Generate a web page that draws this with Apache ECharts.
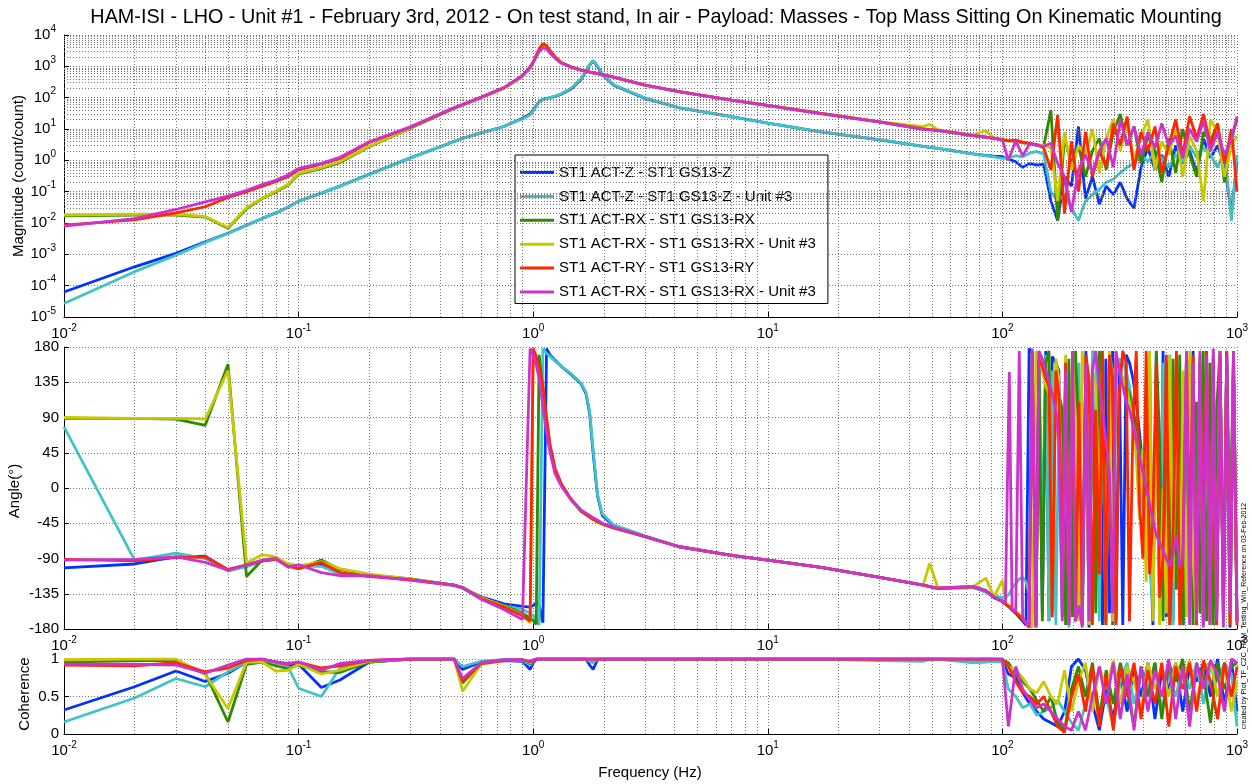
<!DOCTYPE html>
<html>
<head>
<meta charset="utf-8">
<title>HAM-ISI LHO Unit #1 - ST1 transfer functions</title>
<script src="https://cdn.jsdelivr.net/npm/echarts@6/dist/echarts.min.js"></script>
<style>
  html, body { margin: 0; padding: 0; background: #fff; }
  #chart { width: 1252px; height: 784px; }
</style>
</head>
<body>
<div id="chart"></div>
<script>
// frequency points (Hz) below 100 Hz, shared by the three panels
const freq = [
  0.01, 0.02, 0.03, 0.04, 0.05, 0.06, 0.07, 0.08, 0.09, 0.1,
  0.125, 0.15, 0.2, 0.3, 0.46, 0.5, 0.6, 0.75, 0.9, 0.97,
  1.0, 1.03, 1.06, 1.1, 1.14, 1.18, 1.24, 1.32, 1.45, 1.6,
  1.68, 1.74, 1.8, 1.88, 1.97, 2.2, 3, 4.2, 7, 10,
  16.6, 30, 46, 49, 53, 75, 85, 92, 100
];
// noisy band above 100 Hz (magnitude and coherence)
const freqHi = [
  106, 114, 122, 131, 140, 150, 161, 172, 184, 197,
  211, 226, 242, 259, 277, 297, 318, 340, 364, 390,
  417, 447, 478, 512, 548, 587, 628, 673, 720, 771,
  826, 884, 947, 1000
];
// noisy band above 100 Hz (phase, finer)
const freqHiPh = [
  103, 107, 110, 114, 118, 122, 126, 130,
  134, 139, 143, 148, 153, 158, 163, 169, 174, 180, 186, 192,
  199, 205, 212, 219, 227, 234, 242, 250, 259, 267,
  276, 286, 295, 305, 315, 326, 337, 348, 360, 372,
  384, 397, 410, 424, 438, 453, 468, 484, 500, 517,
  534, 552, 570, 589, 609, 629, 650, 672, 695, 718,
  742, 767, 792, 819, 846, 875, 904, 934, 966, 1000
];

const seriesNames = [
  'ST1 ACT-Z - ST1 GS13-Z',
  'ST1 ACT-Z - ST1 GS13-Z - Unit #3',
  'ST1 ACT-RX - ST1 GS13-RX',
  'ST1 ACT-RX - ST1 GS13-RX - Unit #3',
  'ST1 ACT-RY - ST1 GS13-RY',
  'ST1 ACT-RX - ST1 GS13-RX - Unit #3 '   // same label as the yellow one in the original
];
const seriesColors = ['#0033ff', '#40c4c4', '#2f8a00', '#c8c800', '#ff2600', '#cc33cc'];

// magnitude (count/count): freq then freqHi
const magZ1 = [
  6.3e-5, 4.0e-4, 1.07e-3, 2.5e-3, 4.7e-3, 8.5e-3, 0.014, 0.021, 0.032, 0.05,
  0.09, 0.15, 0.36, 1.2, 4.0, 5.0, 7.5, 12, 22, 30,
  40, 55, 75, 88, 95, 100, 110, 130, 190, 380,
  700, 1100, 1500, 1000, 550, 250, 95, 47, 25, 15.5,
  8.2, 4.5, 2.8, 2.6, 2.4, 1.6, 1.45, 1.35, 1.3,
  1.1, 0.9, 0.6, 0.8, 0.7, 0.75, 0.05, 0.012, 0.3, 0.15,
  12, 0.06, 0.3, 0.04, 0.15, 0.08, 0.2, 0.06, 0.03, 0.6,
  2.5, 0.5, 1.5, 0.3, 3, 0.8, 2, 0.4, 5, 1.2,
  3, 0.7, 0.02, 0.9
];
const magZ3 = [
  2.7e-5, 2.8e-4, 9.3e-4, 2.4e-3, 4.6e-3, 8.3e-3, 0.014, 0.021, 0.032, 0.05,
  0.09, 0.15, 0.35, 1.2, 4.0, 5.0, 7.5, 12, 21, 28,
  38, 52, 72, 86, 94, 100, 112, 135, 200, 400,
  750, 1150, 1550, 1050, 580, 260, 98, 47, 25, 15.5,
  8.2, 4.6, 2.8, 2.6, 2.4, 1.6, 1.4, 1.3, 1.15,
  1.2, 1.4, 1.3, 1.7, 1.9, 1.6, 0.1, 0.05, 0.08, 0.03,
  0.012, 0.05, 0.08, 0.12, 0.2, 0.25, 0.4, 0.6, 0.8, 1.5,
  0.9, 2, 1.2, 0.6, 1.5, 0.9, 3, 1.2, 2.5, 1.5,
  0.6, 2, 0.012, 1.5
];
const magRX1 = [
  0.017, 0.018, 0.018, 0.0155, 0.0068, 0.029, 0.06, 0.1, 0.16, 0.36,
  0.55, 0.85, 2.7, 10.5, 45, 58, 100, 200, 480, 900,
  1300, 2000, 3200, 4300, 4000, 2900, 1900, 1300, 950, 760,
  690, 650, 620, 580, 540, 450, 250, 155, 84, 57,
  32, 17, 10, 9.5, 9, 6.2, 5.5, 5, 4.5,
  4.2, 4, 3.6, 3.4, 3, 2.8, 40, 0.012, 5, 0.8,
  3, 0.3, 2, 5, 0.5, 8, 30, 3, 12, 0.8,
  6, 2, 0.2, 5, 0.4, 10, 1.5, 0.3, 8, 4,
  15, 0.2, 5, 20
];
const magRX3 = [
  0.018, 0.019, 0.019, 0.016, 0.0072, 0.031, 0.062, 0.105, 0.17, 0.38,
  0.58, 0.9, 2.8, 10.8, 46, 58, 98, 195, 470, 880,
  1250, 1950, 3100, 4100, 3800, 2800, 1850, 1280, 940, 750,
  680, 640, 610, 575, 535, 445, 248, 152, 83, 56,
  32, 17, 12, 14, 9.5, 6.3, 9, 5.2, 4.6,
  4.3, 4.2, 3.8, 3.5, 3.2, 3, 2.5, 0.05, 8, 0.5,
  3, 1.5, 10, 0.4, 5, 20, 2, 15, 1, 6,
  20, 0.5, 4, 1.5, 10, 0.3, 6, 2, 0.05, 20,
  8, 0.3, 3, 6
];
const magRY1 = [
  0.0085, 0.0125, 0.021, 0.033, 0.065, 0.1, 0.15, 0.21, 0.3, 0.5,
  0.75, 1.15, 3.7, 11.5, 47, 60, 105, 210, 510, 950,
  1400, 2300, 3600, 5300, 4600, 3200, 2000, 1300, 960, 770,
  700, 660, 630, 590, 550, 455, 252, 155, 84, 57,
  32, 17, 10, 9.5, 9, 6.2, 5.5, 5.1, 4.6,
  4.2, 4.4, 3.8, 3.5, 3.2, 2.5, 0.5, 28, 0.02, 4,
  0.1, 8, 0.3, 2, 0.6, 15, 3, 25, 0.5, 8,
  2, 12, 0.4, 3, 20, 1.5, 25, 5, 30, 3,
  15, 0.8, 10, 0.1
];
const magRX3b = [
  0.008, 0.0138, 0.027, 0.047, 0.072, 0.11, 0.17, 0.23, 0.34, 0.55,
  0.8, 1.25, 3.9, 11.7, 48, 60, 102, 205, 500, 920,
  1350, 2100, 3000, 3900, 3500, 2600, 1800, 1250, 930, 750,
  690, 650, 620, 585, 545, 450, 250, 153, 83, 56,
  31, 16.6, 9.8, 9.4, 9, 6.1, 5.4, 5, 4.5,
  1.0, 4.2, 1.4, 3.5, 3, 2.8, 3.5, 0.8, 0.3, 0.022,
  0.5, 1.5, 0.4, 2, 5, 0.6, 20, 3, 12, 1.5,
  8, 2.5, 15, 3, 6, 1.2, 10, 4, 18, 2,
  8, 1.5, 5, 25
];

// phase (degrees): freq then freqHiPh
const phZ1 = [
  -102, -97, -88, -87, -105, -100, -93, -91, -98, -99,
  -97, -110, -111, -116, -124, -128, -139, -148, -151, -152,
  -150, -147, -150, -172, 178, 170, 163, 155, 145, 133,
  120, 95, 45, -10, -35, -48, -62, -75, -86, -92,
  -101, -114, -124, -126, -128, -127, -132, -140, -145,
  -148, -152, -156, -160, -165, -170, -175, 178,
  172, -175, 170, -160, 175, -170, 168, 160, 150, -165, 140, -175,
  160, -170, 120, -150, 175, -178, 150, -120, 170, -175,
  165, -160, 175, -170, 160, -175, 170, 160, 140, 110,
  70, 30, -10, -30, -175, 170, -160, 175, -165, 150,
  -170, 165, -100, -175, 170, -140, 175, -170, 160, -175,
  175, -160, 100, -175, 170, -150, 175, -178, 165, -170
];
const phZ3 = [
  78, -92, -83, -90, -106, -100, -93, -90, -98, -100,
  -100, -110, -112, -117, -125, -128, -141, -150, -155, -160,
  -163, -168, -175, 178, 172, 168, 162, 155, 146, 134,
  122, 98, 50, -8, -33, -47, -61, -75, -86, -92,
  -101, -114, -124, -126, -128, -127, -133, -138, -140,
  -140, -135, -128, -122, -116, -114, -120, -135,
  -150, -165, 175, -60, 170, -170, 150, -175, 100, -160, 165, -178,
  175, -170, 160, -175, 140, -165, 175, 170, -170, 165,
  -175, 170, 150, 140, 165, 160, 150, 130, 100, 60,
  20, -20, -60, -100, -150, 175, -170, 160, -120, 170,
  -175, 150, -160, -110, 175, -175, 165, -130, 170, -165,
  160, -175, 170, -150, 175, -170, 160, -175, 150, -130
];
const phRX1 = [
  89, 89, 88, 80, 158, -113, -92, -90, -98, -103,
  -92, -104, -111, -117, -124, -127, -140, -150, -160, -166,
  -169, -174, 170, 125, 85, 52, 22, 4, -15, -30,
  -34, -37, -40, -43, -46, -51, -62, -75, -86, -92,
  -101, -114, -124, -126, -128, -126, -131, -139, -145,
  -148, -151, -155, -158, -162, -167, -172, -177,
  175, -178, 170, -170, 160, 175, -160, 150, 120, 100, -175, 165,
  -165, 175, 60, -175, 170, -170, 140, -160, 175, 130,
  -170, 170, -175, 165, 150, 140, 130, 120, 100, 80,
  60, 20, -60, 170, -150, 175, 60, -170, 160, -175,
  165, -130, 170, -175, -80, 165, -175, 110, -160, 175,
  -170, 160, -175, 100, 175, -165, 170, -60, 175, -170
];
const phRX3 = [
  90, 89, 89, 88, 150, -96, -85, -88, -97, -100,
  -94, -103, -110, -116, -124, -127, -140, -151, -162, -172,
  176, 165, 148, 115, 78, 50, 20, 3, -15, -29,
  -34, -37, -40, -43, -46, -51, -62, -75, -86, -92,
  -101, -114, -124, -96, -127, -126, -115, -139, -118,
  -147, -150, -154, -158, -162, -167, -172, -177,
  -178, 175, 165, 150, 130, 120, -160, 165, 140, -140, 170, -170,
  170, 80, -170, 175, 120, -175, 150, 130, -40, 170,
  -165, 175, -170, 160, 150, 140, 130, 110, 80, 40,
  -40, 50, -120, 175, -170, 100, -175, 0, -160, 170,
  -120, 160, -170, 150, -165, 175, -90, -175, 170, -160,
  165, -175, 150, -170, 175, -130, 160, -175, 170, -165
];
const phRY1 = [
  -91, -93, -89, -88, -104, -98, -93, -91, -100, -103,
  -95, -108, -113, -117, -124, -127, -141, -152, -163, -170,
  178, 168, 155, 130, 90, 55, 25, 5, -14, -29,
  -34, -37, -40, -43, -46, -51, -62, -75, -86, -92,
  -101, -114, -124, -126, -128, -126, -131, -139, -145,
  -148, -152, -155, -159, -163, -168, -173, -178,
  175, -175, 165, 155, 140, 130, -165, 150, 120, -100, 160, -170,
  150, -170, 110, -160, 170, 140, -175, 100, -110, 175,
  -175, 170, 140, -175, 120, 175, 160, -170, 80, 175,
  -20, -90, 175, -110, -40, 160, -140, -90, 170, -175,
  -60, 175, -175, -70, 165, -80, 170, -175, 160, -110,
  175, -170, 165, -175, 170, -160, 175, -175, 160, -175
];
const phRX3b = [
  -92, -91, -88, -95, -105, -98, -92, -90, -101, -98,
  -108, -112, -112, -118, -124, -127, -142, -155, -168, 178,
  170, 157, 140, 105, 70, 45, 18, 2, -15, -28,
  -32, -35, -38, -41, -45, -50, -62, -75, -86, -92,
  -101, -114, -124, -126, -128, -126, -131, -139, -145,
  -146, 148, -154, -158, 175, -166, -172, -177,
  178, -178, 175, 165, 150, 135, 120, 100, 60, -170, 150, -175,
  175, -170, -150, -178, 160, -170, 150, 175, 130, 100,
  60, 20, -160, 175, 150, 130, 110, 100, 80, 60,
  40, 20, 0, -20, -40, -60, -70, -80, -90, -100,
  -85, -60, -100, -90, 175, -175, 160, -170, 175, -178,
  170, -175, 178, -170, 175, -178, 170, -160, 175, -170
];

// coherence: freq then freqHi
const cohZ1 = [
  0.32, 0.63, 0.84, 0.7, 0.81, 0.96, 0.99, 0.96, 0.92, 0.93,
  0.62, 0.72, 0.96, 1, 1, 0.86, 0.96, 0.98, 0.97, 0.86,
  0.95, 0.99, 1, 1, 1, 1, 1, 1, 1, 1,
  1, 0.92, 0.86, 0.99, 1, 1, 1, 1, 1, 1,
  1, 1, 1, 1, 1, 0.99, 1, 0.99, 0.98,
  0.8, 0.75, 0.55, 0.4, 0.3, 0.2, 0.15, 0.1, 0.3, 0.9,
  1, 0.85, 0.4, 0.05, 0.6, 0.2, 0.8, 0.3, 0.9, 0.5,
  0.95, 0.2, 0.85, 0.6, 0.95, 0.3, 0.9, 0.7, 0.95, 0.5,
  1, 0.4, 0.98, 0.3
];
const cohZ3 = [
  0.16, 0.48, 0.74, 0.63, 0.83, 0.96, 0.99, 0.95, 0.9, 0.61,
  0.5, 0.88, 0.97, 1, 1, 0.9, 0.97, 0.99, 0.98, 0.92,
  0.97, 1, 1, 1, 1, 1, 1, 1, 1, 1,
  1, 0.97, 0.95, 1, 1, 1, 1, 1, 1, 1,
  1, 0.98, 0.97, 0.99, 1, 0.95, 0.96, 0.97, 0.96,
  0.6, 0.5, 0.35, 0.4, 0.25, 0.3, 0.35, 0.45, 0.3, 0.15,
  0.05, 0.4, 0.8, 0.3, 0.5, 0.1, 0.7, 0.95, 0.4, 0.85,
  0.6, 0.95, 0.3, 0.8, 0.5, 0.9, 0.6, 0.95, 0.4, 0.9,
  0.7, 0.95, 0.8, 0.1
];
const cohRX1 = [
  0.96, 0.98, 0.98, 0.81, 0.16, 0.93, 0.96, 0.91, 0.87, 0.92,
  0.83, 0.82, 0.96, 1, 1, 0.68, 0.95, 0.98, 0.99, 0.94,
  0.97, 1, 1, 1, 1, 1, 1, 1, 1, 1,
  1, 1, 1, 1, 1, 1, 1, 1, 1, 1,
  1, 1, 1, 1, 1, 1, 1, 1, 0.99,
  0.95, 0.8, 0.7, 0.6, 0.45, 0.3, 0.5, 0.15, 0.05, 0.6,
  0.9, 0.5, 0.95, 0.2, 0.85, 0.4, 0.95, 0.6, 0.1, 0.9,
  0.5, 0.95, 0.2, 0.95, 0.7, 1, 0.3, 0.9, 0.8, 0.15,
  0.95, 0.6, 0.9, 0.95
];
const cohRX3 = [
  0.99, 1, 1, 0.79, 0.34, 0.96, 0.96, 0.84, 0.85, 0.93,
  0.8, 0.85, 0.97, 1, 1, 0.57, 0.93, 0.98, 0.99, 0.95,
  0.98, 1, 1, 1, 1, 1, 1, 1, 1, 1,
  1, 1, 1, 1, 1, 1, 1, 1, 1, 1,
  1, 1, 1, 1, 1, 1, 1, 1, 1,
  0.9, 0.85, 0.75, 0.6, 0.55, 0.7, 0.5, 0.4, 0.85, 0.3,
  0.7, 0.95, 0.3, 0.9, 0.6, 0.98, 0.4, 0.9, 0.7, 0.3,
  0.95, 0.6, 0.9, 0.5, 0.95, 0.7, 0.98, 0.4, 0.9, 0.95,
  0.5, 0.9, 0.3, 0.7
];
const cohRY1 = [
  0.92, 0.91, 0.95, 0.83, 0.88, 0.98, 1, 0.96, 0.93, 0.96,
  0.88, 0.91, 0.98, 1, 1, 0.7, 0.94, 0.98, 0.99, 0.96,
  0.98, 1, 1, 1, 1, 1, 1, 1, 1, 1,
  1, 1, 1, 1, 1, 1, 1, 1, 1, 1,
  1, 1, 1, 1, 1, 1, 1, 1, 1,
  0.9, 0.7, 0.55, 0.5, 0.4, 0.5, 0.3, 0.1, 0.02, 0.5,
  0.8, 0.3, 0.9, 0.1, 0.8, 0.05, 0.9, 0.5, 0.95, 0.2,
  0.85, 0.4, 0.95, 0.1, 0.9, 0.6, 0.95, 0.3, 0.98, 0.7,
  0.2, 0.95, 0.5, 0.9
];
const cohRX3b = [
  0.93, 0.93, 0.92, 0.81, 0.92, 1, 1, 0.96, 0.94, 0.96,
  0.85, 0.94, 0.98, 1, 1, 0.74, 0.95, 0.99, 0.99, 0.97,
  0.99, 1, 1, 1, 1, 1, 1, 1, 1, 1,
  1, 1, 1, 1, 1, 1, 1, 1, 1, 1,
  1, 1, 1, 1, 1, 1, 1, 1, 1,
  0.1, 0.9, 0.6, 0.45, 0.35, 0.4, 0.3, 0.2, 0.1, 0.05,
  0.3, 0.05, 0.5, 0.9, 0.4, 0.95, 0.2, 0.8, 0.05, 0.9,
  0.3, 0.85, 0.5, 1, 0.2, 0.9, 0.1, 0.95, 0.6, 0.98,
  0.8, 0.3, 1, 0.95
];

const magData = [magZ1, magZ3, magRX1, magRX3, magRY1, magRX3b];
const phaseData = [phZ1, phZ3, phRX1, phRX3, phRY1, phRX3b];
const cohData = [cohZ1, cohZ3, cohRX1, cohRX3, cohRY1, cohRX3b];
const freqMag = freq.concat(freqHi);
const freqPh = freq.concat(freqHiPh);

const titleText = 'HAM-ISI - LHO - Unit #1 - February 3rd, 2012 - On test stand, In air - Payload: Masses - Top Mass Sitting On Kinematic Mounting';
const font = '"Liberation Sans", Arial, Helvetica, sans-serif';

// minor (2..9) grid positions for the log axes
const minorFreq = [];
for (let e = -2; e <= 2; e++) for (let k = 2; k <= 9; k++) minorFreq.push(+(k * Math.pow(10, e)).toPrecision(2));
const minorMag = [];
for (let e = -5; e <= 3; e++) for (let k = 2; k <= 9; k++) minorMag.push(+(k * Math.pow(10, e)).toPrecision(2));

const gridLine = { color: '#777', type: [1, 2], width: 1 };
const supRich = {
  b: { fontSize: 15, lineHeight: 22, color: '#000', fontFamily: font },
  s: { fontSize: 10, lineHeight: 11, verticalAlign: 'top', color: '#000', fontFamily: font }
};
function powLabel(v) {
  return '{b|10}{s|' + Math.round(Math.log10(v)) + '}';
}

function freqAxis(i) {
  return {
    type: 'log', logBase: 10, gridIndex: i, min: 0.01, max: 1000, splitNumber: 5,
    axisLine: { show: true, onZero: false, lineStyle: { color: '#000', width: 1 } },
    axisTick: { show: true, inside: true, length: 5, lineStyle: { color: '#000' } },
    axisLabel: { margin: 6, formatter: powLabel, rich: supRich, showMinLabel: true, showMaxLabel: true },
    splitLine: { show: true, lineStyle: gridLine }
  };
}
const plainLabel = { color: '#000', fontSize: 15, fontFamily: font, margin: 5 };
const axisBase = {
  axisLine: { show: true, onZero: false, lineStyle: { color: '#000', width: 1 } },
  axisTick: { show: true, inside: true, length: 5, lineStyle: { color: '#000' } },
  splitLine: { show: true, lineStyle: gridLine }
};

function gridSeries(i, yLines) {
  const data = minorFreq.map(v => ({ xAxis: v }));
  if (yLines) yLines.forEach(v => data.push({ yAxis: v }));
  return {
    type: 'line', xAxisIndex: i, yAxisIndex: i, data: [], z: 1, silent: true,
    markLine: {
      silent: true, symbol: ['none', 'none'], label: { show: false },
      lineStyle: gridLine, emphasis: { disabled: true }, data: data
    }
  };
}

function dataSeries(i, k, xs, values) {
  return {
    name: seriesNames[k], type: 'line', xAxisIndex: i, yAxisIndex: i,
    data: xs.map((f, j) => [f, values[j]]),
    showSymbol: false, symbol: 'none', z: 3 + k,
    lineStyle: { color: seriesColors[k], width: 2.8 },
    itemStyle: { color: seriesColors[k] },
    emphasis: { disabled: true }
  };
}

const series = [gridSeries(0, minorMag), gridSeries(1), gridSeries(2)];
magData.forEach((v, k) => series.push(dataSeries(0, k, freqMag, v)));
phaseData.forEach((v, k) => series.push(dataSeries(1, k, freqPh, v)));
cohData.forEach((v, k) => series.push(dataSeries(2, k, freqMag, v)));

const chart = echarts.init(document.getElementById('chart'));
chart.setOption({
  animation: false,
  backgroundColor: '#fff',
  textStyle: { fontFamily: font },
  title: {
    text: titleText, left: 651, top: 3, textAlign: 'center',
    textStyle: { fontSize: 19.8, fontWeight: 'normal', color: '#000', fontFamily: font }
  },
  legend: {
    data: seriesNames.map((n, k) => ({ name: n, icon: 'rect', itemStyle: { color: seriesColors[k] } })),
    orient: 'vertical', left: 515, top: 155,
    itemWidth: 34, itemHeight: 3, itemGap: 8.9,
    padding: [10, 8, 4, 5],
    backgroundColor: '#fff', borderColor: '#000', borderWidth: 1,
    textStyle: { fontSize: 15, lineHeight: 14, color: '#000', fontFamily: font },
    selectedMode: false
  },
  grid: [
    { left: 64, top: 35, width: 1173, height: 282 },
    { left: 64, top: 347, width: 1173, height: 282 },
    { left: 64, top: 659, width: 1173, height: 75 }
  ],
  xAxis: [freqAxis(0), freqAxis(1), freqAxis(2)],
  yAxis: [
    Object.assign({}, axisBase, {
      type: 'log', logBase: 10, gridIndex: 0, min: 1e-5, max: 1e4, splitNumber: 9,
      axisLabel: { margin: 8, formatter: powLabel, rich: supRich, showMinLabel: true, showMaxLabel: true }
    }),
    Object.assign({}, axisBase, {
      type: 'value', gridIndex: 1, min: -180, max: 180, interval: 45, axisLabel: plainLabel
    }),
    Object.assign({}, axisBase, {
      type: 'value', gridIndex: 2, min: 0, max: 1, interval: 0.5, axisLabel: plainLabel
    })
  ],
  graphic: [
    { type: 'text', x: 19, y: 176, rotation: Math.PI / 2,
      style: { text: 'Magnitude (count/count)', font: '15px ' + font, fill: '#000', textAlign: 'center', textVerticalAlign: 'middle' } },
    { type: 'text', x: 15, y: 491, rotation: Math.PI / 2,
      style: { text: 'Angle(°)', font: '15px ' + font, fill: '#000', textAlign: 'center', textVerticalAlign: 'middle' } },
    { type: 'text', x: 25, y: 694, rotation: Math.PI / 2,
      style: { text: 'Coherence', font: '15px ' + font, fill: '#000', textAlign: 'center', textVerticalAlign: 'middle' } },
    { type: 'text', x: 650, y: 773,
      style: { text: 'Frequency (Hz)', font: '15px ' + font, fill: '#000', textAlign: 'center', textVerticalAlign: 'middle' } },
    { type: 'text', x: 1244, y: 616, rotation: Math.PI / 2,
      style: { text: 'created by Plot_TF_C2C_HAM_Testing_Win_Reference on 03-Feb-2012', font: '7px ' + font, fill: '#000', textAlign: 'center', textVerticalAlign: 'middle' } }
  ],
  series: series
});
</script>
</body>
</html>
